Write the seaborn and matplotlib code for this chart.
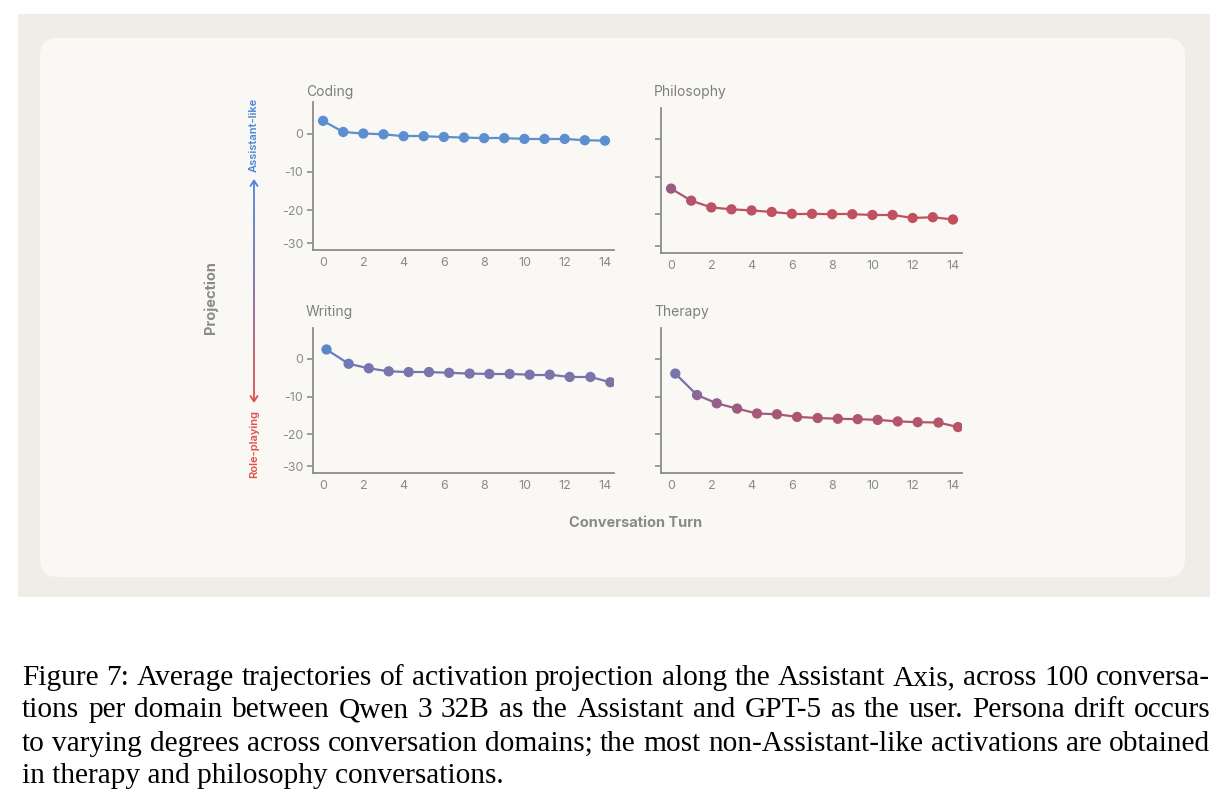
import matplotlib
matplotlib.use("Agg")
import matplotlib.pyplot as plt
import seaborn as sns
import numpy as np
import pandas as pd
from matplotlib.colors import LinearSegmentedColormap, Normalize
from matplotlib.collections import LineCollection
from matplotlib.patches import Rectangle, FancyBboxPatch

# values
domains = ["Coding", "Philosophy", "Writing", "Therapy"]
turns_coding = [0, 1, 2, 3, 4, 5, 6, 7, 8, 9, 10, 11, 12, 13, 14]
turns_philosophy = [0, 1, 2, 3, 4, 5, 6, 7, 8, 9, 10, 11, 12, 13, 14]
turns_writing = [0.17, 1.27, 2.27, 3.26, 4.25, 5.26, 6.26, 7.28, 8.26, 9.27, 10.26, 11.26, 12.25, 13.28, 14.27]
turns_therapy = [0.21, 1.29, 2.27, 3.28, 4.27, 5.26, 6.26, 7.28, 8.28, 9.27, 10.26, 11.26, 12.25, 13.28, 14.25]
proj_coding = [3.3, 0.4, 0.0, -0.2, -0.7, -0.7, -0.9, -1.05, -1.2, -1.2, -1.4, -1.4, -1.4, -1.75, -1.85]
proj_philosophy = [-13.2, -16.4, -18.2, -18.7, -19.0, -19.4, -19.9, -19.9, -20.0, -20.0, -20.2, -20.2, -21.0, -20.8, -21.4]
proj_writing = [2.5, -1.3, -2.5, -3.3, -3.5, -3.5, -3.7, -3.9, -4.0, -4.0, -4.2, -4.2, -4.8, -4.8, -6.2]
proj_therapy = [-3.9, -9.6, -11.8, -13.2, -14.5, -14.7, -15.4, -15.7, -15.9, -16.0, -16.2, -16.6, -16.8, -16.9, -18.1]

xticks = [0, 2, 4, 6, 8, 10, 12, 14]
yticks = [0, -10, -20, -28.5]
ytick_labels = ["0", "-10", "-20", "-30"]

caption_lines = [
    "Figure 7: Average trajectories of activation projection along the Assistant Axis, across 100 conversa-",
    "tions per domain between Qwen 3 32B as the Assistant and GPT-5 as the user. Persona drift occurs",
    "to varying degrees across conversation domains; the most non-Assistant-like activations are obtained",
    "in therapy and philosophy conversations.",
]

sns.set_theme(style="white")
plt.rcParams["font.family"] = ["Inter", "DejaVu Sans"]

W, H = 1230, 805
fig = plt.figure(figsize=(W / 100, H / 100), dpi=100)
fig.patch.set_facecolor("white")

GREY = "#8a8a8a"
BLUE = "#5b8fd0"
drift = LinearSegmentedColormap.from_list(
    "drift",
    [(0.0, "#c4505e"), (0.167, "#b65468"), (0.333, "#9c5a80"), (0.458, "#8a6696"),
     (0.667, "#7a74a8"), (0.792, "#7276b0"), (1.0, "#5a88cf")])
norm = Normalize(vmin=-21, vmax=3)

# background overlay in pixel coordinates
bg = fig.add_axes([0, 0, 1, 1], zorder=-5)
bg.set_xlim(0, W)
bg.set_ylim(H, 0)
bg.axis("off")
bg.add_patch(Rectangle((18, 14), 1192, 583, facecolor="#f0ede6", edgecolor="none"))
bg.add_patch(FancyBboxPatch((40 + 18, 38 + 18), 1145 - 36, 539 - 36,
                            boxstyle="round,pad=18", facecolor="#f9f8f5", edgecolor="none"))

# gradient arrow
ys = np.linspace(182, 400, 60)
segs = [[(254, ys[i]), (254, ys[i + 1])] for i in range(len(ys) - 1)]
arrow_cmap = LinearSegmentedColormap.from_list("arr", ["#4a86d6", "#8a6aa0", "#e0504a"])
bg.add_collection(LineCollection(segs, colors=arrow_cmap(np.linspace(0, 1, len(segs))), linewidths=1.3))
bg.plot([250.5, 254, 257.5], [186, 180.5, 186], color="#4a86d6", lw=1.3, solid_capstyle="round")
bg.plot([250.5, 254, 257.5], [396, 401.5, 396], color="#e0504a", lw=1.3, solid_capstyle="round")
bg.text(254, 135, "Assistant-like", rotation=90, ha="center", va="center",
        color="#4a86d6", fontsize=8, fontweight="semibold")
bg.text(254, 444, "Role-playing", rotation=90, ha="center", va="center",
        color="#e0504a", fontsize=8, fontweight="semibold")
bg.text(211, 298, "Projection", rotation=90, ha="center", va="center",
        color=GREY, fontsize=10.5, fontweight="bold")
bg.text(636, 523, "Conversation Turn", ha="center", va="center",
        color=GREY, fontsize=10.5, fontweight="bold")

panels = {
    "Coding": (turns_coding, proj_coding, (313, 614, 102, 250), True, (306, 92)),
    "Philosophy": (turns_philosophy, proj_philosophy, (661, 962, 108, 253), False, (654, 92)),
    "Writing": (turns_writing, proj_writing, (313, 614, 328, 473), True, (306, 312)),
    "Therapy": (turns_therapy, proj_therapy, (661, 962, 328, 473), False, (654, 312)),
}

for name in domains:
    x, y, (l, r, t, b), show_labels, (tx, ty) = panels[name]
    ax = fig.add_axes([l / W, 1 - b / H, (r - l) / W, (b - t) / H])
    ax.set_facecolor("none")
    df = pd.DataFrame({"turn": x, "proj": y})
    xs, yv = np.array(x), np.array(y)
    pts = np.column_stack([xs, yv])
    segs = np.stack([pts[:-1], pts[1:]], axis=1)
    mids = (yv[:-1] + yv[1:]) / 2
    if name == "Coding":
        seg_colors = [BLUE] * len(mids)
        sns.scatterplot(data=df, x="turn", y="proj", color=BLUE, s=55,
                        edgecolor="none", ax=ax, zorder=3, legend=False)
    else:
        seg_colors = drift(norm(mids))
        sns.scatterplot(data=df, x="turn", y="proj", hue="proj", palette=drift,
                        hue_norm=norm, s=55, edgecolor="none", ax=ax, zorder=3, legend=False)
    ax.add_collection(LineCollection(segs, colors=seg_colors, linewidths=1.6, zorder=2))

    ax.set_xlim(-0.5, 14.45)
    ax.set_ylim(-30.3, 8.2)
    ax.set_xticks(xticks)
    ax.set_yticks(yticks)
    ax.set_yticklabels(ytick_labels if show_labels else [])
    ax.set_xlabel("")
    ax.set_ylabel("")
    for side in ["top", "right"]:
        ax.spines[side].set_visible(False)
    for side in ["left", "bottom"]:
        ax.spines[side].set_color("#8c8c8c")
        ax.spines[side].set_linewidth(1.3)
    ax.tick_params(axis="y", length=4, width=1.2, color="#8c8c8c", pad=3,
                   labelsize=9, labelcolor=GREY, left=True)
    ax.tick_params(axis="x", length=0, pad=5, labelsize=9, labelcolor=GREY)
    bg.text(tx, ty, name, ha="left", va="center", fontsize=10, color="#7f7f7f")

# caption, justified line by line
fig.canvas.draw()
renderer = fig.canvas.get_renderer()
left, right = 22, 1210
base = 18.0
# pick a font size so the widest natural line just fits the text block
probe = [bg.text(0, 0, ln, family="Liberation Serif", fontsize=base) for ln in caption_lines[:3]]
natural = max(p.get_window_extent(renderer).width for p in probe)
for p in probe:
    p.remove()
cap_size = base * (right - left) / natural
cap_font = dict(family="Liberation Serif", fontsize=cap_size, color="black", va="baseline")
baselines = [685, 717, 751, 783]
for line, yb in zip(caption_lines, baselines):
    words = line.split(" ")
    if line is caption_lines[-1]:
        bg.text(left, yb, line, ha="left", **cap_font)
        continue
    objs = [bg.text(0, yb, w, ha="left", **cap_font) for w in words]
    widths = [o.get_window_extent(renderer).width for o in objs]
    gap = (right - left - sum(widths)) / (len(words) - 1)
    xpos = left
    for o, w in zip(objs, widths):
        o.set_x(xpos)
        xpos += w + gap

fig.savefig("out.png", dpi=100, facecolor="white")
